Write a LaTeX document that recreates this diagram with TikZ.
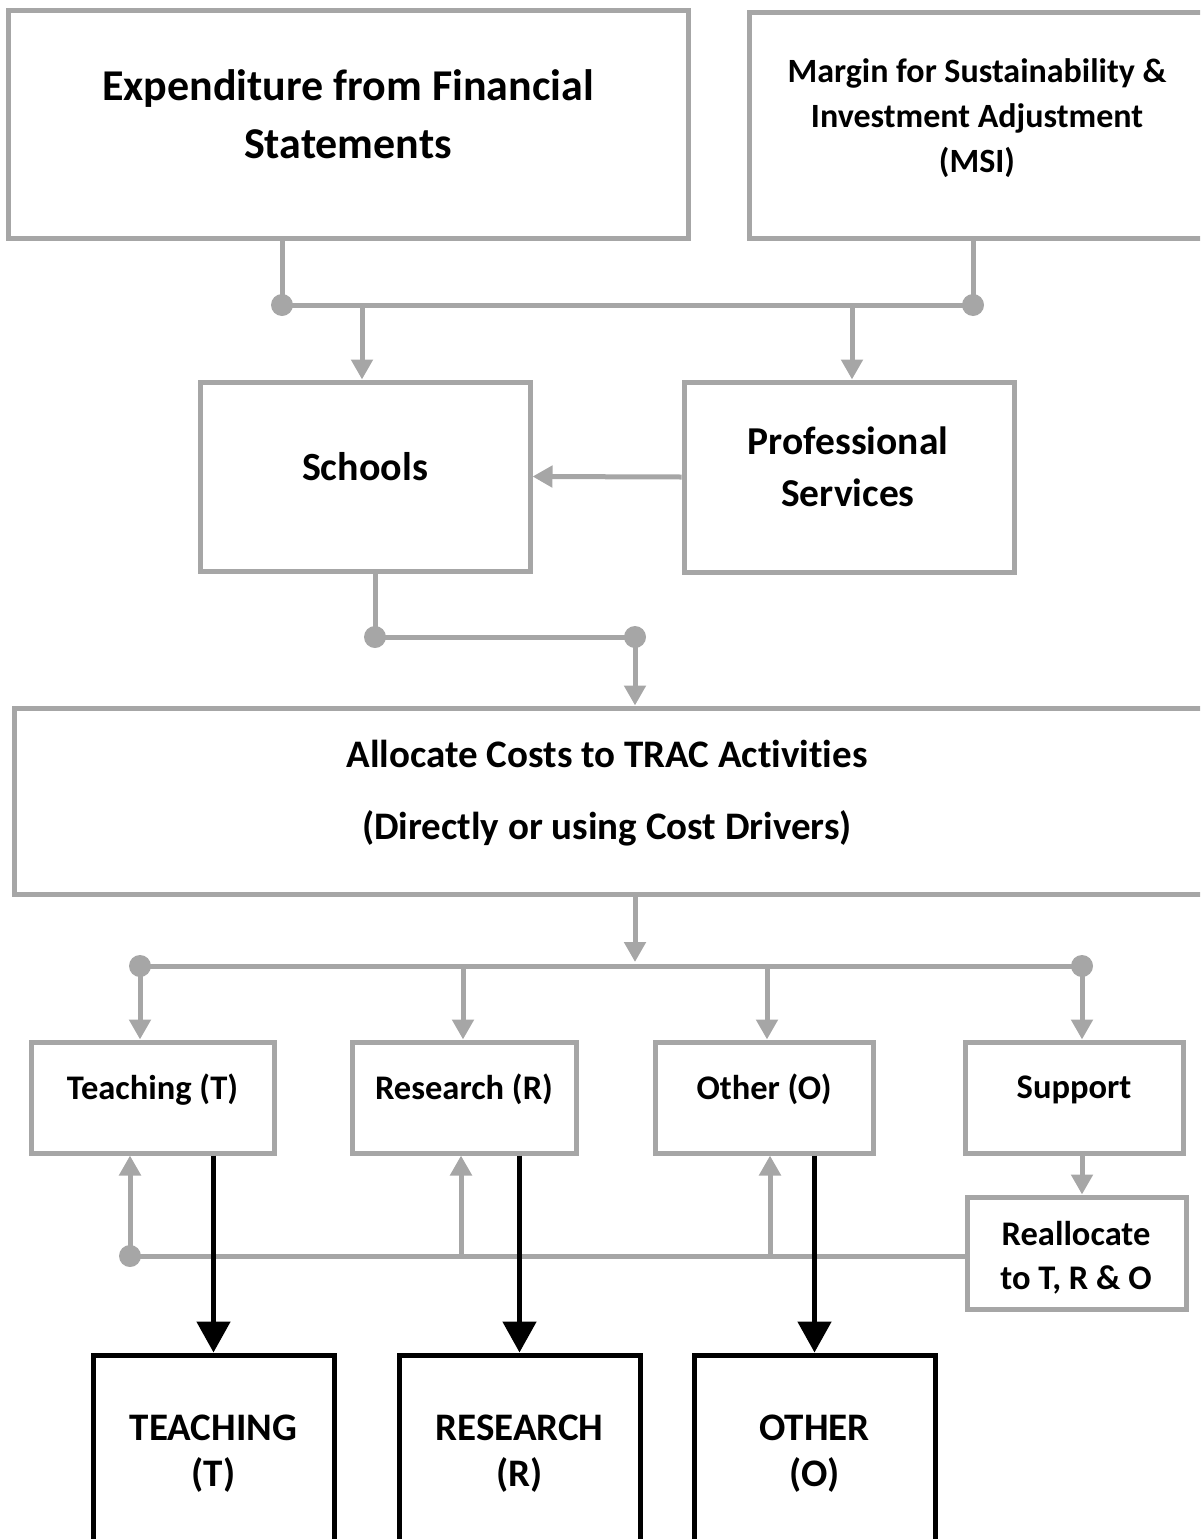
\documentclass[tikz,border=0pt]{standalone}
\usepackage{fontspec}
\setmainfont{Carlito}[Ligatures=NoCommon]
\usetikzlibrary{arrows.meta}
\definecolor{lg}{HTML}{A6A6A6}
\tikzset{
  x=1pt,y=1pt,
  gbox/.style={draw=lg,line width=5pt,fill=white,inner sep=0pt},
  bbox/.style={draw=black,line width=5pt,fill=white,inner sep=0pt},
  txt/.style={align=center,inner sep=0pt,font=\bfseries},
  gline/.style={draw=lg,line width=5pt},
  garrow/.style={draw=lg,line width=5pt,-{Triangle[length=20pt,width=21pt]}},
  barrow/.style={draw=black,line width=5pt,-{Triangle[length=31pt,width=33pt]}},
  dot/.style={fill=lg,circle,minimum size=22pt,inner sep=0pt}
}
\begin{document}
\begin{tikzpicture}
\path[use as bounding box] (0,0) rectangle (1200,-1539);
\clip (0,0) rectangle (1200,-1539);
% top boxes
\node[gbox,minimum width=680pt,minimum height=228pt] (A) at (348,-124) {};
\node[txt,font=\bfseries\fontsize{44}{58}\selectfont] (At) at (348,-114) {Expenditure from Financial\\Statements};
\node[gbox,minimum width=460pt,minimum height=226pt] (B) at (979,-125) {};
\node[txt,font=\bfseries\fontsize{34}{45}\selectfont] (Bt) at (977,-118) {Margin for Sustainability \&\\Investment Adjustment\\(MSI)};
% middle boxes
\node[gbox,minimum width=330pt,minimum height=189pt] (S) at (365,-476.5) {};
\node[txt,font=\bfseries\fontsize{40}{52}\selectfont] (St) at (365,-466.5) {Schools};
\node[gbox,minimum width=330pt,minimum height=190pt] (P) at (849,-477) {};
\node[txt,font=\bfseries\fontsize{39.5}{52}\selectfont] (Pt) at (848,-467) {Professional\\Services};
% allocate
\node[gbox,minimum width=1192pt,minimum height=186pt] (AL) at (610,-801) {};
\node[txt,font=\bfseries\fontsize{39}{72}\selectfont] (ALt) at (607,-793.5) {Allocate Costs to TRAC Activities\\(Directly or using Cost Drivers)};
% activity boxes
\node[gbox,minimum width=243pt,minimum height=111pt] (T) at (152.5,-1097.5) {};
\node[txt,font=\bfseries\fontsize{34.5}{40}\selectfont] (Tt) at (152.5,-1089.5) {Teaching (T)};
\node[gbox,minimum width=224pt,minimum height=111pt] (R) at (464,-1097.5) {};
\node[txt,font=\bfseries\fontsize{34.5}{40}\selectfont] (Rt) at (464,-1089.5) {Research (R)};
\node[gbox,minimum width=218pt,minimum height=111pt] (O) at (764,-1097.5) {};
\node[txt,font=\bfseries\fontsize{34.5}{40}\selectfont] (Ot) at (764,-1089.5) {Other (O)};
\node[gbox,minimum width=218pt,minimum height=111pt] (SU) at (1074,-1097.5) {};
\node[txt,font=\bfseries\fontsize{34.5}{40}\selectfont] (SUt) at (1074,-1089.5) {Support};
\node[gbox,minimum width=219pt,minimum height=112pt] (RA) at (1076.5,-1253) {};
\node[txt,font=\bfseries\fontsize{34.5}{44}\selectfont] (RAt) at (1076,-1258) {Reallocate\\to T, R \& O};
% bottom boxes
\node[bbox,minimum width=241pt,minimum height=245pt] (TB) at (213.5,-1477.5) {};
\node[bbox,minimum width=241pt,minimum height=245pt] (RB) at (519.5,-1477.5) {};
\node[bbox,minimum width=241pt,minimum height=245pt] (OB) at (814.5,-1477.5) {};
\node[txt,font=\bfseries\fontsize{39}{46}\selectfont] (TBt) at (213.5,-1454) {TEACHING\\(T)};
\node[txt,font=\bfseries\fontsize{39}{46}\selectfont] (RBt) at (519.5,-1454) {RESEARCH\\(R)};
\node[txt,font=\bfseries\fontsize{39}{46}\selectfont] (OBt) at (814.5,-1454) {OTHER\\(O)};
% junction coordinates
\coordinate (j1) at (282,-305);
\coordinate (j2) at (973,-305);
\coordinate (s1) at (362,-305);
\coordinate (p1) at (852,-305);
\coordinate (k1) at (375,-637);
\coordinate (k2) at (635,-637);
\coordinate (m0) at (635,-966);
\coordinate (m1) at (140,-966);
\coordinate (m2) at (463,-966);
\coordinate (m3) at (767,-966);
\coordinate (m4) at (1082,-966);
\coordinate (d) at (130,-1256);
\coordinate (u2) at (461,-1256);
\coordinate (u3) at (770,-1256);
% top connectors
\draw[gline] (A.south -| j1) -- (j1) -- (j2) -- (B.south -| j2);
\draw[garrow] (s1) -- (s1 |- S.north);
\draw[garrow] (p1) -- (p1 |- P.north);
\node[dot] (dj1) at (j1) {};
\node[dot] (dj2) at (j2) {};
\draw[garrow] (P.west) -- (S.east);
% schools to allocate
\draw[gline] (S.south -| k1) -- (k1) -- (k2);
\draw[garrow] (k2) -- (k2 |- AL.north);
\node[dot] (dk1) at (k1) {};
\node[dot] (dk2) at (k2) {};
% allocate to activities
\draw[garrow] (AL.south -| m0) -- ([yshift=4pt]m0);
\draw[gline] (m1) -- (m4);
\draw[garrow] (m1) -- (m1 |- T.north);
\draw[garrow] (m2) -- (m2 |- R.north);
\draw[garrow] (m3) -- (m3 |- O.north);
\draw[garrow] (m4) -- (m4 |- SU.north);
\node[dot] (dm1) at (m1) {};
\node[dot] (dm4) at (m4) {};
% support reallocation
\draw[garrow] (SU.south -| m4) -- (m4 |- RA.north);
\draw[gline] (RA.west |- d) -- (d);
\draw[garrow] (d) -- (d |- T.south);
\draw[garrow] (u2) -- (u2 |- R.south);
\draw[garrow] (u3) -- (u3 |- O.south);
\node[dot] (dd) at (d) {};
% black arrows
\draw[barrow] (T.south -| TB.north) -- (TB.north);
\draw[barrow] (R.south -| RB.north) -- (RB.north);
\draw[barrow] (O.south -| OB.north) -- (OB.north);
\end{tikzpicture}
\end{document}
